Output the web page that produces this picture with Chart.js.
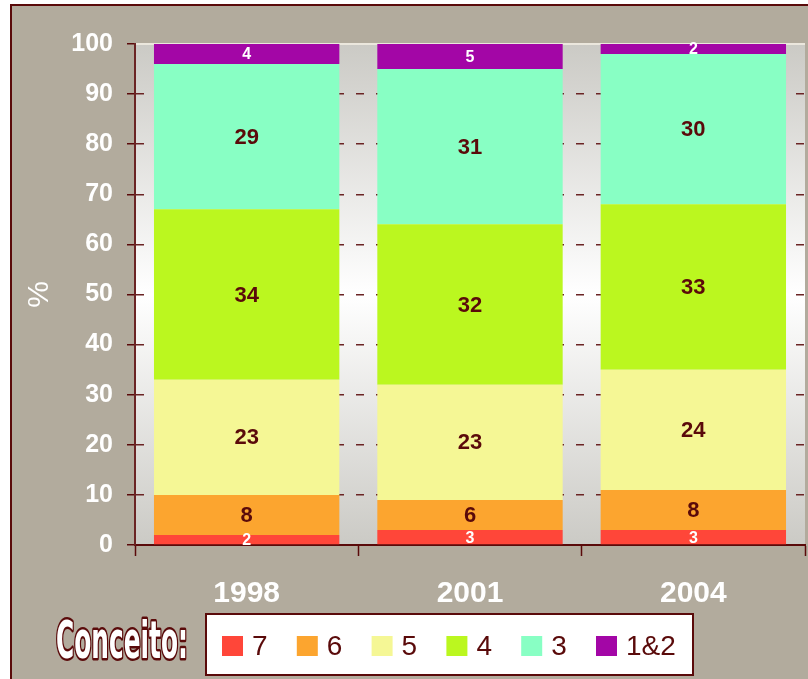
<!DOCTYPE html>
<html>
<head>
<meta charset="utf-8">
<script src="https://cdn.jsdelivr.net/npm/chart.js@4"></script>
<style>
  html, body { margin: 0; padding: 0; background: #fff; }
  canvas { display: block; }
</style>
</head>
<body>
<canvas id="conceitoChart" width="808" height="679"></canvas>
<script>
// anos (eixo x)
const years = ['1998', '2001', '2004'];
// conceitos, de baixo para cima na pilha
const conceitos = ['7', '6', '5', '4', '3', '1&2'];
// % de cada conceito por ano
const pct7  = [2, 3, 3];
const pct6  = [8, 6, 8];
const pct5  = [23, 23, 24];
const pct4  = [34, 32, 33];
const pct3  = [29, 31, 30];
const pct12 = [4, 5, 2];
const seriesValues = [pct7, pct6, pct5, pct4, pct3, pct12];
const seriesColors = ['#ff4639', '#fca52f', '#f5f795', '#bbf71f', '#88ffc4', '#a306a6'];

const maroon = '#5a0a0a';
const fontFamily = '"Liberation Sans", Arial, sans-serif';

// taupe background, frame and the gray/white gradient behind the bars
const backdrop = {
    id: 'backdrop',
    beforeDraw(chart) {
        const {ctx, width, height, chartArea: a} = chart;
        ctx.save();
        ctx.fillStyle = '#ffffff';
        ctx.fillRect(0, 0, width, height);
        ctx.fillStyle = '#b2ab9d';
        ctx.fillRect(11, 5, width - 11, height - 5);
        ctx.strokeStyle = maroon;
        ctx.lineWidth = 2;
        ctx.beginPath();
        ctx.moveTo(11, height);
        ctx.lineTo(11, 5);
        ctx.lineTo(width, 5);
        ctx.stroke();

        let g = ctx.createLinearGradient(0, a.top, 0, a.bottom);
        g.addColorStop(0, '#cbcac5');
        g.addColorStop(0.5, '#ffffff');
        g.addColorStop(1, '#cbcac5');
        ctx.fillStyle = g;
        ctx.fillRect(a.left, a.top, a.right - a.left, a.bottom - a.top);

        // light rim along the top of the plot area
        ctx.strokeStyle = '#ebe7dd';
        ctx.lineWidth = 2;
        ctx.beginPath();
        ctx.moveTo(a.left, a.top);
        ctx.lineTo(a.right, a.top);
        ctx.stroke();
        ctx.restore();
    }
};

// value labels in the middle of each segment
const segmentLabels = {
    id: 'segmentLabels',
    afterDatasetsDraw(chart) {
        const ctx = chart.ctx;
        ctx.save();
        ctx.textAlign = 'center';
        ctx.textBaseline = 'middle';
        chart.data.datasets.forEach((ds, i) => {
            let small = (ds.label === '7' || ds.label === '1&2');
            ctx.font = small ? 'bold 16px ' + fontFamily : 'bold 22px ' + fontFamily;
            ctx.fillStyle = small ? '#ffffff' : maroon;
            chart.getDatasetMeta(i).data.forEach((bar, j) => {
                const p = bar.getProps(['x', 'y', 'base'], true);
                ctx.fillText(String(ds.data[j]), p.x, (p.y + p.base) / 2 + 1);
            });
        });
        ctx.restore();
    }
};

// "Conceito:" legend box under the chart
const conceitoLegend = {
    id: 'conceitoLegend',
    afterDraw(chart) {
        const ctx = chart.ctx;

        ctx.save();
        ctx.font = 'bold 52px "DejaVu Sans", sans-serif';
        const w = ctx.measureText('Conceito:').width;
        ctx.translate(56, 658);
        ctx.scale(132 / w, 1);
        ctx.textBaseline = 'alphabetic';
        ctx.lineJoin = 'round';
        ctx.lineWidth = 5;
        ctx.strokeStyle = maroon;
        ctx.strokeText('Conceito:', 0, 0);
        ctx.fillStyle = '#ffffff';
        ctx.fillText('Conceito:', 0, 0);
        ctx.restore();

        ctx.save();
        ctx.fillStyle = '#ffffff';
        ctx.fillRect(206, 614, 487, 61);
        ctx.strokeStyle = maroon;
        ctx.lineWidth = 2;
        ctx.strokeRect(206, 614, 487, 61);

        ctx.font = '28px ' + fontFamily;
        ctx.textAlign = 'left';
        ctx.textBaseline = 'alphabetic';
        chart.data.datasets.forEach((ds, i) => {
            let x = 222 + i * 74.8;
            ctx.fillStyle = ds.backgroundColor;
            ctx.fillRect(x, 636, 21, 20);
            ctx.fillStyle = maroon;
            ctx.fillText(ds.label, x + 30, 655);
        });
        ctx.restore();
    }
};

let datasets = conceitos.map((c, i) => ({
    label: c,
    data: seriesValues[i],
    backgroundColor: seriesColors[i],
    borderWidth: 0,
    barPercentage: 0.83,
    categoryPercentage: 1.0
}));

new Chart(document.getElementById('conceitoChart'), {
    type: 'bar',
    data: { labels: years, datasets: datasets },
    plugins: [backdrop, segmentLabels, conceitoLegend],
    options: {
        responsive: false,
        animation: false,
        layout: { padding: { top: 44, right: 3, left: 0, bottom: 0 } },
        plugins: {
            legend: { display: false },
            tooltip: { enabled: false },
            title: { display: false }
        },
        scales: {
            x: {
                stacked: true,
                afterFit(scale) { scale.height = 134; },
                grid: {
                    offset: true,
                    drawOnChartArea: false,
                    drawTicks: true,
                    tickLength: 11,
                    tickColor: maroon,
                    tickWidth: 1.5
                },
                border: { display: true, color: maroon, width: 2 },
                ticks: {
                    color: '#ffffff',
                    padding: 20,
                    font: { family: fontFamily, size: 30, weight: 'bold' }
                }
            },
            y: {
                stacked: true,
                min: 0,
                max: 100,
                afterFit(scale) { scale.width = 135; },
                grid: {
                    drawTicks: true,
                    tickLength: 8,
                    tickColor: maroon,
                    tickWidth: 1.5,
                    lineWidth: 1.5,
                    color: (c) => {
                        if (c.tick && (c.tick.value === 100 || c.tick.value === 0)) return 'rgba(0,0,0,0)';
                        return '#6b2424';
                    }
                },
                border: { display: true, color: '#6b2424', width: 2, dash: [8, 12] },
                ticks: {
                    stepSize: 10,
                    color: '#ffffff',
                    padding: 14,
                    font: { family: fontFamily, size: 25, weight: 'bold' }
                },
                title: {
                    display: true,
                    text: '%',
                    color: '#ffffff',
                    padding: { top: 22, bottom: 0 },
                    font: { family: fontFamily, size: 30 }
                }
            }
        }
    }
});
</script>
</body>
</html>
